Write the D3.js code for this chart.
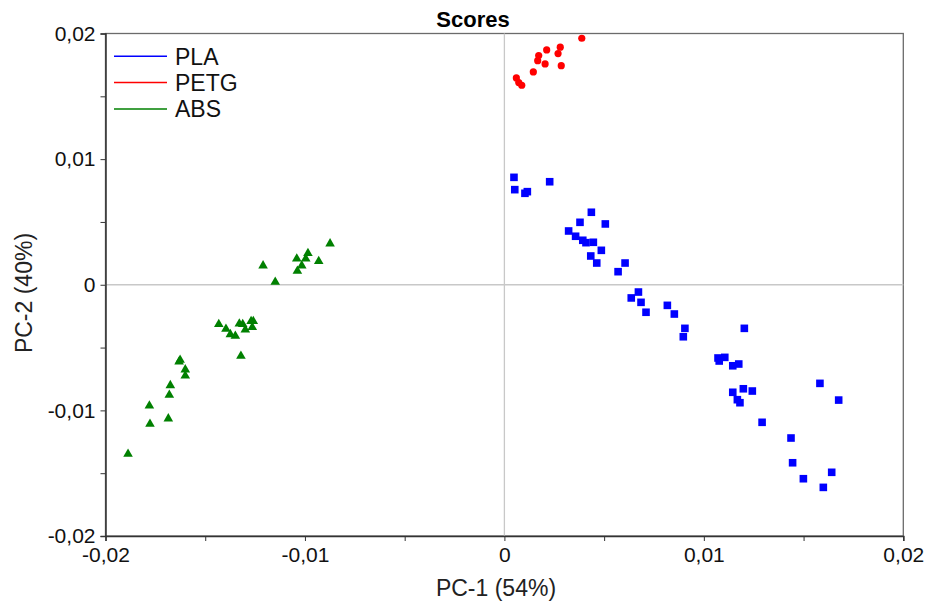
<!DOCTYPE html>
<html>
<head>
<meta charset="UTF-8">
<title>Scores</title>
<script src="https://d3js.org/d3.v7.min.js"></script>
<style>
  body { margin: 0; background: #fff; }
  text { font-family: "Liberation Sans", Arial, sans-serif; }
</style>
</head>
<body>
<div class="canvas"></div>
<script>
  // scores, units of 0.001
  const plaX = [0.48, 2.27, 0.52, 1.15, 1.03, 4.36, 3.79, 5.06, 3.22, 3.57, 3.93, 4.09, 4.46, 4.86, 4.33, 4.63, 6.05, 5.70, 6.72, 6.36, 6.85,
    7.10, 8.17, 8.52, 9.05, 12.03, 8.97, 10.71, 11.05, 10.77, 11.45, 11.75, 15.82, 11.45, 11.98, 12.43, 11.68, 11.81, 16.76, 12.92, 14.37, 14.45, 16.41, 14.99, 15.99]
  const plaY = [8.55, 8.20, 7.57, 7.41, 7.28, 5.77, 4.97, 4.84, 4.28, 3.86, 3.54, 3.35, 3.38, 2.74, 2.29, 1.73, 1.73, 1.04, -0.58, -1.05, -1.40,
    -2.19, -1.64, -2.33, -3.47, -3.47, -4.14, -5.83, -5.78, -6.07, -6.45, -6.31, -7.85, -8.56, -8.28, -8.46, -9.15, -9.39, -9.18, -10.95, -12.20, -14.17, -14.93, -15.44, -16.13]
  const petgX = [3.88, 2.80, 2.12, 2.69, 1.72, 1.67, 2.04, 2.85, 1.45, 0.60, 0.72, 0.87]
  const petgY = [19.62, 18.91, 18.69, 18.40, 18.24, 17.84, 17.58, 17.44, 16.94, 16.46, 16.09, 15.88]
  const absX = [-8.74, -9.85, -10.41, -9.96, -9.31, -10.16, -12.10, -10.38, -11.49, -14.32, -13.96, -13.74, -13.49, -13.29, -13.12, -12.99, -12.70, -12.59, -12.64, -13.21,
    -16.26, -16.31, -16.00, -16.00, -16.75, -16.80, -17.80, -17.77, -16.85, -18.87]
  const absY = [3.27, 2.50, 2.07, 2.07, 1.87, 1.52, 1.52, 1.09, 0.22, -3.15, -3.52, -3.95, -4.08, -3.10, -3.15, -3.58, -2.91, -2.91, -3.39, -5.67,
    -5.99, -6.13, -6.76, -7.24, -8.01, -8.78, -9.63, -11.09, -10.66, -13.47]

  const groups = ['PLA', 'PETG', 'ABS']
  const colors = ['#0000ff', '#ff0000', '#008000']
  const xTicks = [-0.02, -0.015, -0.01, -0.005, 0, 0.005, 0.01, 0.015, 0.02]
  const yTicks = [-0.02, -0.015, -0.01, -0.005, 0, 0.005, 0.01, 0.015, 0.02]

  const W = 938, H = 603
  const m = { top: 33.5, right: 34.7, bottom: 67, left: 105.5 }
  const iw = W - m.left - m.right, ih = H - m.top - m.bottom

  const svg = d3.select('.canvas').append('svg')
    .attr('width', W).attr('height', H)

  const x = d3.scaleLinear().domain([-0.02, 0.02]).range([0, iw])
  const y = d3.scaleLinear().domain([-0.02, 0.02]).range([ih, 0])

  const g = svg.append('g').attr('transform', `translate(${m.left},${m.top})`)

  // only label every 0.01, comma decimal, plain hyphen
  const fmt = d => Math.abs(Math.round(d * 200) % 2) === 1 ? '' :
    (d === 0 ? '0' : d3.format('.2f')(d).replace('.', ',').replace('\u2212', '-'))

  // frame
  g.append('rect').attr('width', iw).attr('height', ih)
    .attr('fill', 'none').attr('stroke', '#6b6b6b').attr('stroke-width', 1.3)

  // zero lines
  g.append('line').attr('x1', x(0)).attr('x2', x(0)).attr('y1', 0).attr('y2', ih)
    .attr('stroke', '#c8c8c8').attr('stroke-width', 1.3)
  g.append('line').attr('x1', 0).attr('x2', iw).attr('y1', y(0)).attr('y2', y(0))
    .attr('stroke', '#c8c8c8').attr('stroke-width', 1.3)

  const xAxis = g.append('g').attr('transform', `translate(0,${ih})`)
    .call(d3.axisBottom(x).tickValues(xTicks).tickFormat(fmt).tickSize(5).tickPadding(6))
  const yAxis = g.append('g')
    .call(d3.axisLeft(y).tickValues(yTicks).tickFormat(fmt).tickSize(5).tickPadding(5))
  ;[xAxis, yAxis].forEach(a => {
    a.select('.domain').attr('stroke', '#333').attr('stroke-width', 1.5)
    a.selectAll('.tick line').attr('stroke', '#333')
    a.selectAll('text').attr('font-size', 21).attr('fill', '#111')
      .style('font-family', '"Liberation Sans", Arial, sans-serif')
  })

  // points
  const pla = plaX.map((v, i) => [v / 1000, plaY[i] / 1000])
  const petg = petgX.map((v, i) => [v / 1000, petgY[i] / 1000])
  const abs = absX.map((v, i) => [v / 1000, absY[i] / 1000])

  g.selectAll('.pla').data(pla).enter().append('rect')
    .attr('x', d => x(d[0]) - 3.8).attr('y', d => y(d[1]) - 3.8)
    .attr('width', 7.6).attr('height', 7.6).attr('fill', colors[0])

  g.selectAll('.petg').data(petg).enter().append('circle')
    .attr('cx', d => x(d[0])).attr('cy', d => y(d[1])).attr('r', 3.6)
    .attr('fill', colors[1])

  const tri = d3.symbol().type(d3.symbolTriangle).size(40)
  g.selectAll('.abs').data(abs).enter().append('path')
    .attr('transform', d => `translate(${x(d[0])},${y(d[1])})`)
    .attr('d', tri).attr('fill', colors[2])

  // legend
  const leg = g.append('g').attr('transform', 'translate(8.5,22.8)')
  groups.forEach((s, i) => {
    const row = leg.append('g').attr('transform', `translate(0,${i * 26.3})`)
    row.append('line').attr('x1', 0).attr('x2', 53).attr('stroke', colors[i]).attr('stroke-width', 1.5)
    row.append('text').attr('x', 61).attr('y', 0).attr('dy', '0.36em')
      .attr('font-size', 23).attr('fill', '#111').text(s)
  })

  // title, axis labels
  svg.append('text').attr('x', 473).attr('y', 27)
    .attr('text-anchor', 'middle').attr('font-size', 22).attr('font-weight', 'bold').text('Scores')
  svg.append('text').attr('x', 496).attr('y', 596)
    .attr('text-anchor', 'middle').attr('font-size', 23).attr('fill', '#222').text('PC-1 (54%)')
  svg.append('text').attr('transform', 'translate(32,293) rotate(-90)')
    .attr('text-anchor', 'middle').attr('font-size', 23).attr('fill', '#222').text('PC-2 (40%)')
</script>
</body>
</html>
